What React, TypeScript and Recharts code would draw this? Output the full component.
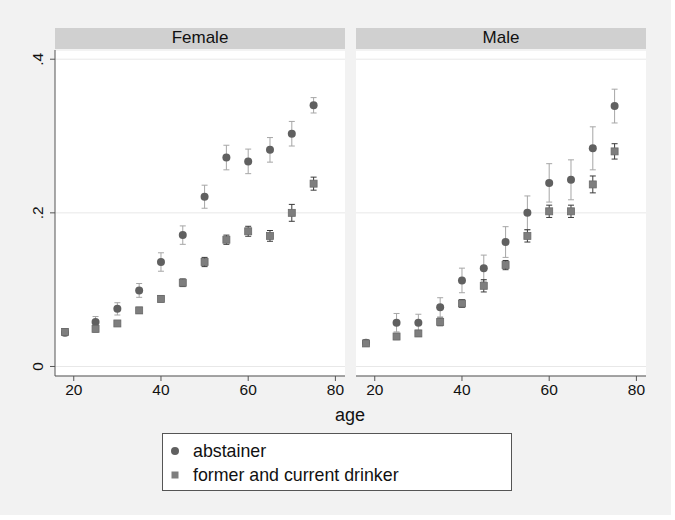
import {
  ScatterChart,
  Scatter,
  XAxis,
  YAxis,
  CartesianGrid,
  ErrorBar,
} from "recharts";

const ages = [18, 25, 30, 35, 40, 45, 50, 55, 60, 65, 70, 75];

const femaleAbstainer = [0.044, 0.058, 0.075, 0.099, 0.136, 0.171, 0.221, 0.272, 0.267, 0.282, 0.303, 0.340];
const femaleAbstainerCI = [0.004, 0.007, 0.008, 0.009, 0.012, 0.012, 0.015, 0.016, 0.016, 0.016, 0.016, 0.010];
const femaleDrinker = [0.045, 0.049, 0.056, 0.073, 0.088, 0.109, 0.136, 0.165, 0.176, 0.170, 0.200, 0.238];
const femaleDrinkerCI = [0.004, 0.004, 0.003, 0.004, 0.004, 0.005, 0.006, 0.006, 0.0065, 0.007, 0.011, 0.0085];

const maleAbstainer = [0.031, 0.057, 0.057, 0.077, 0.112, 0.128, 0.162, 0.200, 0.239, 0.243, 0.284, 0.339];
const maleAbstainerCI = [0.004, 0.012, 0.011, 0.0125, 0.016, 0.017, 0.020, 0.022, 0.025, 0.026, 0.028, 0.022];
const maleDrinker = [0.030, 0.039, 0.043, 0.058, 0.082, 0.105, 0.132, 0.170, 0.202, 0.202, 0.237, 0.280];
const maleDrinkerCI = [0.003, 0.004, 0.004, 0.005, 0.005, 0.008, 0.006, 0.008, 0.008, 0.008, 0.011, 0.010];

const xTicks = [20, 40, 60, 80];
const yTicks = [0, 0.2, 0.4];
const legendLabels = ["abstainer", "former and current drinker"];

const FONT = "'Liberation Sans', Arial, Helvetica, sans-serif";
const CIRCLE = "#606060";
const SQUARE = "#7e7e7e";
const AXIS = "#555";

const toPoints = (vals: number[], ci: number[]) =>
  ages.map((age, i) => ({ age, value: vals[i], err: ci[i] }));

const fmtY = (v: number) => (v === 0 ? "0" : String(v).replace(/^0/, ""));

const CircleShape = (p: any) => (
  <circle cx={p.cx} cy={p.cy} r={4} fill={CIRCLE} />
);
const SquareShape = (p: any) => (
  <rect x={p.cx - 3.5} y={p.cy - 3.5} width={7} height={7} fill={SQUARE} stroke="#6a6a6a" strokeWidth={0.8} />
);
const Nothing = () => <g />;

const YTick = ({ x, y, payload }: any) => (
  <text
    x={x - 5}
    y={y}
    transform={`rotate(-90, ${x - 5}, ${y})`}
    textAnchor="middle"
    fontSize={15.5}
    fontFamily={FONT}
    fill="#111"
  >
    {fmtY(payload.value)}
  </text>
);

type PanelProps = {
  abst: number[];
  abstCI: number[];
  drink: number[];
  drinkCI: number[];
  showY: boolean;
  width: number;
};

const Panel = ({ abst, abstCI, drink, drinkCI, showY, width }: PanelProps) => {
  const a = toPoints(abst, abstCI);
  const d = toPoints(drink, drinkCI);
  return (
    <ScatterChart width={width} height={360} margin={{ top: 0, right: 0, bottom: 0, left: 0 }}>
      <CartesianGrid vertical={false} fill="#fff" stroke="#e8e8e8" />
      <XAxis
        type="number"
        dataKey="age"
        domain={[15.7, 82.2]}
        ticks={xTicks}
        height={34}
        stroke={AXIS}
        tickSize={5}
        tickMargin={3}
        tick={{ fontSize: 15.5, fontFamily: FONT, fill: "#111" }}
      />
      <YAxis
        type="number"
        dataKey="value"
        domain={[-0.0124, 0.412]}
        ticks={yTicks}
        hide={!showY}
        width={55}
        stroke={AXIS}
        tickSize={5}
        tickMargin={2}
        tick={<YTick />}
        allowDataOverflow
      />
      <Scatter data={a} shape={CircleShape} isAnimationActive={false}>
        <ErrorBar dataKey="err" direction="y" width={3} stroke="#a6a6a6" strokeWidth={1} isAnimationActive={false} />
      </Scatter>
      <Scatter data={d} shape={SquareShape} isAnimationActive={false} />
      <Scatter data={d} shape={Nothing} isAnimationActive={false}>
        <ErrorBar dataKey="err" direction="y" width={3} stroke="#3a3a3a" strokeWidth={1} isAnimationActive={false} />
      </Scatter>
    </ScatterChart>
  );
};

const strip = (left: number, width: number, label: string) => (
  <div
    style={{
      position: "absolute",
      left,
      top: 28,
      width,
      height: 21,
      background: "#d0d0d0",
      fontSize: 17,
      lineHeight: "19px",
      textAlign: "center",
      color: "#111",
    }}
  >
    {label}
  </div>
);

export default function App() {
  return (
    <div
      style={{
        position: "absolute",
        left: 0,
        top: 0,
        width: 671,
        height: 515,
        background: "#f2f2f2",
        fontFamily: FONT,
      }}
    >
      {strip(55, 290, "Female")}
      {strip(356, 290, "Male")}
      <div style={{ position: "absolute", left: 0, top: 50 }}>
        <Panel abst={femaleAbstainer} abstCI={femaleAbstainerCI} drink={femaleDrinker} drinkCI={femaleDrinkerCI} showY width={345} />
      </div>
      <div style={{ position: "absolute", left: 356, top: 50 }}>
        <Panel abst={maleAbstainer} abstCI={maleAbstainerCI} drink={maleDrinker} drinkCI={maleDrinkerCI} showY={false} width={290} />
      </div>
      <div style={{ position: "absolute", left: 300, top: 405, width: 100, textAlign: "center", fontSize: 18, color: "#111" }}>
        age
      </div>
      <div
        style={{
          position: "absolute",
          left: 162,
          top: 433,
          width: 348,
          height: 56,
          background: "#fff",
          border: "1px solid #555",
          fontSize: 17.8,
          color: "#111",
        }}
      >
        {legendLabels.map((label, i) => (
          <div key={label} style={{ position: "absolute", left: 0, top: 6 + i * 24, height: 22, display: "flex", alignItems: "center" }}>
            <svg width={30} height={22} style={{ display: "block" }}>
              {i === 0 ? <circle cx={12} cy={11} r={4} fill={CIRCLE} /> : <rect x={8.5} y={7.5} width={7} height={7} fill={SQUARE} />}
            </svg>
            <span>{label}</span>
          </div>
        ))}
      </div>
    </div>
  );
}
